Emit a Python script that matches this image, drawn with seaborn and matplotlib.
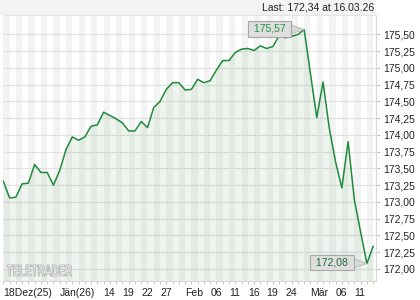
import matplotlib
matplotlib.use("Agg")
import matplotlib.pyplot as plt
import seaborn as sns
import pandas as pd
from matplotlib.patches import Rectangle, PathPatch
from matplotlib.textpath import TextPath
from matplotlib.font_manager import FontProperties
from matplotlib.transforms import Affine2D
from matplotlib.ticker import FixedLocator

# ---- data ----
prices = [173.31, 173.06, 173.07, 173.27, 173.28, 173.56, 173.44, 173.44, 173.25, 173.47,
          173.78, 173.97, 173.92, 173.97, 174.13, 174.15, 174.34, 174.29, 174.24, 174.18,
          174.06, 174.06, 174.20, 174.11, 174.41, 174.50, 174.68, 174.78, 174.78, 174.67,
          174.68, 174.83, 174.78, 174.81, 174.97, 175.11, 175.11, 175.23, 175.28, 175.29,
          175.26, 175.33, 175.29, 175.32, 175.48, 175.45, 175.47, 175.50, 175.57, 174.91,
          174.26, 174.79, 174.10, 173.60, 173.21, 173.90, 173.03, 172.55, 172.08, 172.34]
sessions = list(range(len(prices)))

xtick_sessions = [0, 9, 16, 19, 22, 25, 29, 33, 36, 39, 42, 45, 49, 53, 56]
xtick_labels = ["18Dez(25)", "Jän(26)", "14", "19", "22", "27", "Feb", "06", "11",
                "16", "19", "24", "Mär", "06", "11"]
ytick_values = [172.00, 172.25, 172.50, 172.75, 173.00, 173.25, 173.50, 173.75,
                174.00, 174.25, 174.50, 174.75, 175.00, 175.25, 175.50]
ytick_labels = ["172,00", "172,25", "172,50", "172,75", "173,00", "173,25", "173,50", "173,75",
                "174,00", "174,25", "174,50", "174,75", "175,00", "175,25", "175,50"]
title_text = "Last: 172,34 at 16.03.26"

df = pd.DataFrame({"session": sessions, "price": prices})

sns.set_theme(style="white")
plt.rcParams["font.family"] = ["Liberation Sans", "DejaVu Sans"]

W, H = 420, 300
fig = plt.figure(figsize=(W / 100, H / 100), dpi=100)
fig.patch.set_facecolor("white")
# light band above the plot
fig.add_artist(Rectangle((0, 1 - 15 / H), 376 / W, 15 / H, transform=fig.transFigure,
                         fc="#f3f3f3", ec="none", zorder=-5))

ax = fig.add_axes([3 / W, 19 / H, 373 / W, 266 / H])
ax.set_facecolor("white")
ymin, ymax = 171.82, 175.79
ax.set_xlim(-0.05, 59.45)
ax.set_ylim(ymin, ymax)

# alternating vertical stripes, one per session
for s in sessions[::2]:
    ax.axvspan(s, s + 1, color="#f3f3f3", lw=0, zorder=0)

ax.fill_between(df["session"], df["price"], ymin, color="#3f8f46", alpha=0.085, lw=0, zorder=1)
sns.lineplot(data=df, x="session", y="price", color="#1e8a3a", lw=1.1, ax=ax, zorder=3)

# axes styling
ax.set_xlabel("")
ax.set_ylabel("")
ax.spines["left"].set_visible(False)
for side in ["right", "bottom", "top"]:
    ax.spines[side].set_visible(True)
    ax.spines[side].set_color("#d8d8d8")
    ax.spines[side].set_linewidth(0.8)
ax.spines["top"].set_color("#e4e4e4")

ax.yaxis.tick_right()
ax.yaxis.set_major_locator(FixedLocator(ytick_values))
ax.set_yticklabels(ytick_labels)
ax.yaxis.grid(True, color="#e2e2e2", lw=0.9)
ax.xaxis.grid(False)
ax.set_axisbelow(True)
ax.tick_params(axis="y", which="both", right=True, left=False, length=3, width=0.8,
               color="#c4c4c4", labelsize=7.5, pad=2, labelcolor="#222222")

ax.xaxis.set_major_locator(FixedLocator(xtick_sessions))
ax.xaxis.set_minor_locator(FixedLocator(sessions))
ax.set_xticklabels(xtick_labels, ha="left")
ax.tick_params(axis="x", which="both", bottom=True, length=2.5, width=0.7,
               color="#c4c4c4", labelsize=7.5, pad=2.5, labelcolor="#222222")

fig.text(374 / W, 1 - 7.5 / H, title_text, ha="right", va="center",
         fontsize=7.5, color="#222222")

# high / low labels
hi = max(sessions, key=lambda i: prices[i])
lo = min(sessions, key=lambda i: prices[i])
for idx, col in [(hi, "#23913d"), (lo, "#1b6a30")]:
    ax.annotate(" " + f"{prices[idx]:.2f}".replace(".", ",") + " ",
                xy=(idx, prices[idx]), xytext=(-25, 0.8), textcoords="offset points",
                ha="center", va="center", fontsize=7.5, color=col, zorder=6,
                bbox=dict(boxstyle="square,pad=0.28", fc="#dedede", ec="#a8a8a8", lw=0.8),
                arrowprops=dict(arrowstyle="wedge,tail_width=0.8,shrink_factor=0.5",
                                fc="#d8d8d8", ec="#b4b4b4", lw=0.6,
                                shrinkA=0, shrinkB=0))

# watermark logo
tp = TextPath((0, 0), "TELETRADER", size=10,
              prop=FontProperties(family="Liberation Sans", weight="bold"))
bb = tp.get_extents()
tx = (Affine2D().translate(-bb.x0, -bb.y0)
      .scale(65 / bb.width, 11 / bb.height)
      .translate(7, H - 276)
      .scale(1 / 100) + fig.dpi_scale_trans)
fig.add_artist(PathPatch(tp, transform=tx, fc="white", ec="#b9b9b9", lw=0.7, zorder=4))

fig.savefig("out.png", dpi=100)
